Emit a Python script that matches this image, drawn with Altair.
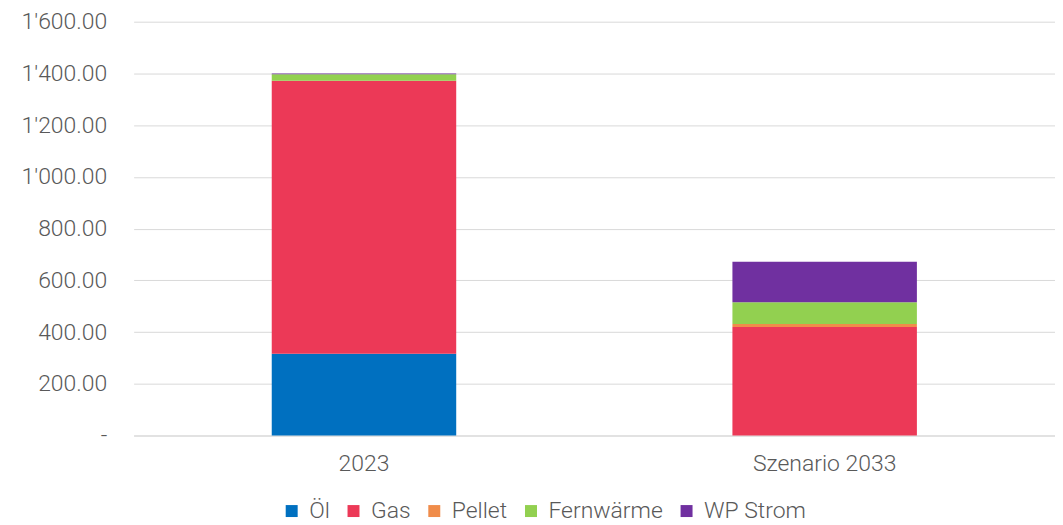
import altair as alt
import pandas as pd

categories = ["2023", "Szenario 2033"]
series = ["Öl", "Gas", "Pellet", "Fernwärme", "WP Strom"]
colors = ["#0070C0", "#EC3957", "#F08C4A", "#92D050", "#7030A0"]
values_2023 = [316, 1056, 0, 25, 3]
values_2033 = [0, 420, 11, 84, 157]

rows = []
for i, s in enumerate(series):
    rows.append({"Kategorie": categories[0], "Serie": s, "Wert": values_2023[i], "Ordnung": i})
    rows.append({"Kategorie": categories[1], "Serie": s, "Wert": values_2033[i], "Ordnung": i})
df = pd.DataFrame(rows)

font = "Roboto"
grey = "#595959"
fs = 23

chart = alt.Chart(df).mark_bar(size=185).encode(
    x=alt.X("Kategorie:N", sort=categories, title=None,
            scale=alt.Scale(paddingInner=0, paddingOuter=0),
            axis=alt.Axis(labelAngle=0, ticks=False, domainColor="#d9d9d9",
                          labelFontSize=fs, labelColor=grey, labelFont=font,
                          labelFontWeight=300, labelPadding=17, grid=False)),
    y=alt.Y("Wert:Q", stack="zero", title=None,
            scale=alt.Scale(domain=[0, 1600]),
            axis=alt.Axis(values=[0, 200, 400, 600, 800, 1000, 1200, 1400, 1600],
                          labelExpr="datum.value == 0 ? '-' : replace(format(datum.value, ',.2f'), ',', \"'\")",
                          domain=False, ticks=False, gridColor="#d9d9d9",
                          labelFontSize=fs, labelColor=grey, labelFont=font,
                          labelFontWeight=300, labelPadding=27)),
    color=alt.Color("Serie:N", sort=series,
                    scale=alt.Scale(domain=series, range=colors),
                    legend=alt.Legend(title=None, orient="none", direction="horizontal",
                                      legendX=147, legendY=479,
                                      symbolType="square", symbolSize=144,
                                      symbolStrokeWidth=0,
                                      labelFontSize=fs, labelColor=grey, labelFont=font,
                                      labelFontWeight=300,
                                      columnPadding=12, labelOffset=6)),
    order=alt.Order("Ordnung:Q", sort="ascending"),
).properties(
    width=924, height=415,
    autosize=alt.AutoSizeParams(type="none"),
    padding={"left": 126, "top": 13, "right": 0, "bottom": 89},
).configure_view(stroke=None)

chart.save("out.html", embed_options={"renderer": "svg", "actions": False})
